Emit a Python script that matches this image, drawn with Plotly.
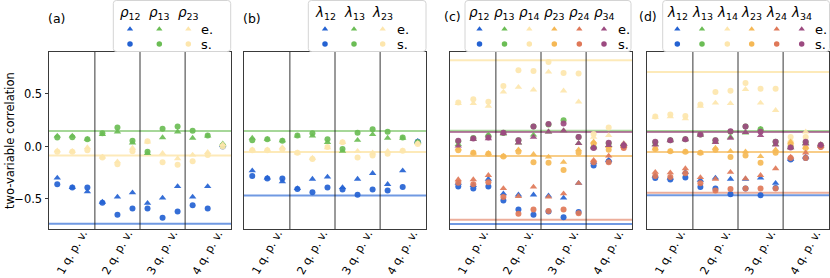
import plotly.graph_objects as go

W, H = 830, 278

# ---------------- data ----------------
x_pos = list(range(12))
tick_vals = [2, 5, 8, 11]
tick_text = ["1 q. p. v.", "2 q. p. v.", "3 q. p. v.", "4 q. p. v."]
section_bounds = [2.5, 5.5, 8.5]
panel_labels = ["(a)", "(b)", "(c)", "(d)"]

# panel (a): rho_12, rho_13, rho_23 (e = triangles, s = circles)
a_12_e = [-0.30, -0.39, -0.43, -0.53, -0.48, -0.44, -0.54, -0.49, -0.38, -0.48, -0.38, 0.01]
a_12_s = [-0.36, -0.39, -0.39, -0.535, -0.65, -0.59, -0.59, -0.68, -0.62, -0.56, -0.59, 0.00]
a_13_e = [0.10, 0.10, 0.07, 0.115, 0.14, 0.035, -0.065, 0.085, 0.14, 0.08, 0.10, 0.025]
a_13_s = [0.085, 0.087, 0.07, 0.125, 0.18, 0.055, -0.05, 0.17, 0.19, 0.15, 0.105, 0.01]
a_23_e = [-0.04, -0.045, -0.01, -0.10, -0.145, -0.015, 0.045, -0.065, -0.115, -0.08, -0.055, 0.02]
a_23_s = [-0.05, -0.05, -0.035, -0.105, -0.17, -0.045, 0.05, -0.15, -0.175, -0.14, -0.08, 0.00]
a_ref = [-0.735, 0.148, -0.087]

# panel (b): lambda_12, lambda_13, lambda_23
b_12_e = [-0.23, -0.30, -0.335, -0.40, -0.31, -0.29, -0.39, -0.31, -0.255, -0.36, -0.23, 0.05]
b_12_s = [-0.28, -0.305, -0.305, -0.405, -0.435, -0.39, -0.41, -0.46, -0.41, -0.42, -0.385, 0.045]
b_13_e = [0.08, 0.07, 0.055, 0.10, 0.10, 0.04, -0.045, 0.06, 0.115, 0.08, 0.08, 0.04]
b_13_s = [0.06, 0.07, 0.055, 0.105, 0.125, 0.068, -0.025, 0.13, 0.165, 0.14, 0.085, 0.04]
b_23_e = [-0.03, -0.03, -0.01, -0.06, -0.11, -0.01, 0.04, -0.045, -0.06, -0.045, -0.04, 0.03]
b_23_s = [-0.035, -0.035, -0.027, -0.06, -0.12, -0.005, 0.04, -0.105, -0.087, -0.07, -0.04, 0.024]
b_ref = [-0.468, 0.148, -0.052]

# panel (c): rho_12, rho_13, rho_14, rho_23, rho_24, rho_34
c_12_e = [-0.35, -0.37, -0.31, -0.45, -0.46, -0.46, -0.47, -0.49, -0.35, -0.15, -0.13, 0.02]
c_12_s = [-0.38, -0.40, -0.38, -0.515, -0.60, -0.65, -0.62, -0.675, -0.625, -0.18, -0.14, 0.01]
c_13_e = [0.02, 0.07, 0.11, 0.12, 0.035, 0.11, 0.14, 0.15, 0.03, 0.00, 0.01, 0.02]
c_13_s = [0.05, 0.08, 0.10, 0.13, 0.06, 0.19, 0.21, 0.25, 0.09, -0.01, 0.03, 0.01]
c_14_e = [0.41, 0.41, 0.385, 0.52, 0.565, 0.54, 0.71, 0.53, 0.425, 0.09, 0.105, 0.03]
c_14_s = [0.42, 0.45, 0.425, 0.575, 0.725, 0.72, 0.805, 0.70, 0.695, 0.12, 0.18, 0.02]
c_23_e = [-0.02, -0.06, -0.065, -0.09, -0.03, -0.075, -0.10, -0.15, -0.03, 0.045, 0.00, 0.01]
c_23_s = [-0.035, -0.06, -0.07, -0.095, -0.05, -0.15, -0.155, -0.225, -0.06, 0.025, -0.03, 0.00]
c_24_e = [-0.315, -0.315, -0.275, -0.40, -0.475, -0.385, -0.48, -0.45, -0.35, -0.13, -0.09, 0.0]
c_24_s = [-0.345, -0.36, -0.34, -0.48, -0.64, -0.60, -0.615, -0.60, -0.635, -0.15, -0.15, -0.015]
c_34_e = [0.005, 0.07, 0.075, 0.125, 0.035, 0.09, 0.14, 0.15, 0.03, -0.01, 0.01, 0.025]
c_34_s = [0.055, 0.075, 0.085, 0.13, 0.06, 0.19, 0.215, 0.22, 0.09, -0.015, 0.035, 0.01]
c_ref = [-0.738, 0.151, 0.821, -0.09, -0.697, 0.138]

# panel (d): lambda_12 ... lambda_34
d_12_e = [-0.28, -0.30, -0.245, -0.32, -0.30, -0.31, -0.31, -0.30, -0.35, -0.12, -0.10, 0.01]
d_12_s = [-0.30, -0.315, -0.295, -0.385, -0.40, -0.455, -0.40, -0.465, -0.395, -0.125, -0.11, 0.00]
d_13_e = [0.02, 0.06, 0.07, 0.11, 0.045, 0.09, 0.13, 0.165, 0.02, -0.01, 0.03, 0.02]
d_13_s = [0.04, 0.06, 0.07, 0.115, 0.06, 0.14, 0.19, 0.165, 0.045, -0.005, 0.04, 0.015]
d_14_e = [0.28, 0.285, 0.265, 0.385, 0.415, 0.41, 0.545, 0.415, 0.345, 0.06, 0.14, 0.02]
d_14_s = [0.285, 0.305, 0.29, 0.40, 0.52, 0.53, 0.605, 0.55, 0.55, 0.09, 0.09, 0.01]
d_23_e = [-0.02, -0.045, -0.05, -0.06, -0.015, -0.045, -0.05, -0.095, -0.03, 0.045, -0.005, 0.005]
d_23_s = [-0.025, -0.045, -0.05, -0.06, -0.03, -0.10, -0.085, -0.155, -0.06, 0.02, -0.015, 0.0]
d_24_e = [-0.245, -0.25, -0.21, -0.295, -0.31, -0.245, -0.305, -0.275, -0.21, -0.10, -0.06, 0.00]
d_24_s = [-0.28, -0.29, -0.255, -0.35, -0.42, -0.405, -0.40, -0.40, -0.40, -0.11, -0.11, -0.005]
d_34_e = [0.015, 0.055, 0.065, 0.11, 0.04, 0.08, 0.135, 0.105, 0.015, -0.01, 0.025, 0.02]
d_34_s = [0.045, 0.06, 0.07, 0.115, 0.06, 0.145, 0.19, 0.14, 0.045, -0.01, 0.045, 0.015]
d_ref = [-0.465, 0.148, 0.71, -0.052, -0.44, 0.138]

names3 = ["12", "13", "23"]
names6 = ["12", "13", "14", "23", "24", "34"]

# ---------------- styles ----------------
COL6 = ["#2462d2", "#6bbd55", "#fde6ad", "#f5b855", "#df7858", "#9c4a80"]
COL3 = ["#2462d2", "#6bbd55", "#fde6ad"]
LINECOL6 = ["rgba(36,98,210,0.65)", "rgba(107,189,85,0.6)", "rgba(253,230,173,0.85)",
            "rgba(245,184,85,0.7)", "rgba(223,120,88,0.6)", "rgba(156,74,128,0.7)"]
LINECOL3 = LINECOL6[:3]

panels = [
    dict(px=(49, 231), sym="ρ", names=names3, cols=COL3, lcols=LINECOL3,
         e=[a_12_e, a_13_e, a_23_e], s=[a_12_s, a_13_s, a_23_s], ref=a_ref,
         box=(113.3, 230.7), hx=[130, 159.3, 188.3], es_x=199, lab=(56, 18)),
    dict(px=(244, 426), sym="λ", names=names3, cols=COL3, lcols=LINECOL3,
         e=[b_12_e, b_13_e, b_23_e], s=[b_12_s, b_13_s, b_23_s], ref=b_ref,
         box=(308.3, 426), hx=[325, 354, 382.7], es_x=395, lab=(252, 18)),
    dict(px=(450, 632), sym="ρ", names=names6, cols=COL6, lcols=LINECOL6,
         e=[c_12_e, c_13_e, c_14_e, c_23_e, c_24_e, c_34_e],
         s=[c_12_s, c_13_s, c_14_s, c_23_s, c_24_s, c_34_s], ref=c_ref,
         box=(465, 631), hx=[479.5, 504.5, 529.3, 554.3, 579.3, 604], es_x=615.5, lab=(452, 16)),
    dict(px=(647, 829), sym="λ", names=names6, cols=COL6, lcols=LINECOL6,
         e=[d_12_e, d_13_e, d_14_e, d_23_e, d_24_e, d_34_e],
         s=[d_12_s, d_13_s, d_14_s, d_23_s, d_24_s, d_34_s], ref=d_ref,
         box=(662.7, 829.5), hx=[677.3, 702, 727.3, 751.7, 776.7, 801.7], es_x=812.5, lab=(648, 16)),
]

TOP, BOT = 52, 229
YR = [-0.786, 0.90]
XR = [-0.55, 11.55]
FONT = "DejaVu Sans"
FRAME = "#3a3a3a"

fig = go.Figure()
layout = dict(width=W, height=H, margin=dict(l=0, r=0, t=0, b=0, autoexpand=False),
              paper_bgcolor="white", plot_bgcolor="rgba(0,0,0,0)",
              showlegend=False, font=dict(family=FONT, color="black"))
shapes = []
annotations = []

ydom = [1 - BOT / H, 1 - TOP / H]

for i, p in enumerate(panels):
    k = "" if i == 0 else str(i + 1)
    xa, ya = "x" + k, "y" + k
    x0, x1 = p["px"]
    layout["xaxis" + k] = dict(domain=[x0 / W, x1 / W], range=XR, anchor=ya, automargin=False,
                               showgrid=False, zeroline=False, showline=True, mirror=True,
                               linecolor=FRAME, linewidth=1, tickmode="array",
                               tickvals=tick_vals, showticklabels=False, ticks="")
    layout["yaxis" + k] = dict(domain=ydom, range=YR, anchor=xa, automargin=False,
                               showgrid=False, zeroline=False, showline=True, mirror=True,
                               linecolor=FRAME, linewidth=1,
                               tickmode="array", tickvals=[-0.5, 0.0, 0.5],
                               ticktext=["−0.5", "0.0", "0.5"],
                               ticks="outside" if i == 0 else "", ticklen=3.5, tickcolor=FRAME,
                               showticklabels=(i == 0),
                               tickfont=dict(size=11.5, family=FONT, color="black"))
    # rotated category labels, anchored at their tick positions
    for tv, tt in zip(tick_vals, tick_text):
        annotations.append(dict(xref=xa, yref="paper", x=tv, y=1 - 252.5 / H, xshift=-15,
                                showarrow=False, text=tt, textangle=-60,
                                font=dict(size=11.3, family=FONT, color="black"),
                                xanchor="center", yanchor="middle"))
    # section dividers
    for b in section_bounds:
        shapes.append(dict(type="line", xref=xa, yref=ya + " domain", x0=b, x1=b, y0=0, y1=1,
                           line=dict(color="rgba(20,20,20,0.85)", width=1), layer="above"))
    # reference lines
    for v, lc in zip(p["ref"], p["lcols"]):
        shapes.append(dict(type="line", xref=xa + " domain", yref=ya, x0=0, x1=1, y0=v, y1=v,
                           line=dict(color=lc, width=2), layer="below"))
    # data
    for ev, sv, c in zip(p["e"], p["s"], p["cols"]):
        fig.add_trace(go.Scatter(x=x_pos, y=ev, mode="markers", xaxis=xa, yaxis=ya,
                                 marker=dict(symbol="triangle-up", size=6.5, color=c, opacity=0.92,
                                             line=dict(width=0))))
        fig.add_trace(go.Scatter(x=x_pos, y=sv, mode="markers", xaxis=xa, yaxis=ya,
                                 marker=dict(symbol="circle", size=6, color=c, opacity=0.92,
                                             line=dict(width=0))))

# overlay pixel axes for legends / labels
layout["xaxis5"] = dict(domain=[0, 1], range=[0, W], visible=False, anchor="y5",
                        fixedrange=True, automargin=False)
layout["yaxis5"] = dict(domain=[0, 1], range=[H, 0], visible=False, anchor="x5",
                        fixedrange=True, automargin=False)

def rounded_rect(x0, y0, x1, y1, r=3):
    return (f"M{x0 + r},{y0} L{x1 - r},{y0} Q{x1},{y0} {x1},{y0 + r} L{x1},{y1 - r} "
            f"Q{x1},{y1} {x1 - r},{y1} L{x0 + r},{y1} Q{x0},{y1} {x0},{y1 - r} "
            f"L{x0},{y0 + r} Q{x0},{y0} {x0 + r},{y0} Z")

for p in panels:
    bx0, bx1 = p["box"]
    shapes.append(dict(type="path", xref="x5", yref="y5",
                       path=rounded_rect(bx0, 0.5, bx1, 51.5),
                       fillcolor="rgba(255,255,255,0.85)", line=dict(color="#d4d4d4", width=1),
                       layer="below"))
    for hx, nm in zip(p["hx"], p["names"]):
        annotations.append(dict(xref="x5", yref="y5", x=hx, y=13, showarrow=False,
                                text=f"<i>{p['sym']}</i><sub>{nm}</sub>",
                                font=dict(size=13.5, family=FONT, color="black"),
                                xanchor="center", yanchor="middle"))
    fig.add_trace(go.Scatter(x=p["hx"], y=[29] * len(p["hx"]), mode="markers",
                             xaxis="x5", yaxis="y5",
                             marker=dict(symbol="triangle-up", size=5.5, color=p["cols"])))
    fig.add_trace(go.Scatter(x=p["hx"], y=[44] * len(p["hx"]), mode="markers",
                             xaxis="x5", yaxis="y5",
                             marker=dict(symbol="circle", size=5.5, color=p["cols"])))
    for t, yy in (("e.", 29), ("s.", 44)):
        annotations.append(dict(xref="x5", yref="y5", x=p["es_x"], y=yy, showarrow=False,
                                text=t, font=dict(size=13, family=FONT, color="black"),
                                xanchor="left", yanchor="middle"))

for p, lab in zip(panels, panel_labels):
    annotations.append(dict(xref="x5", yref="y5", x=p["lab"][0], y=p["lab"][1], showarrow=False,
                            text=lab, font=dict(size=12.5, family=FONT, color="black"),
                            xanchor="center", yanchor="middle"))

annotations.append(dict(xref="x5", yref="y5", x=9.5, y=(TOP + BOT) / 2, showarrow=False,
                        text="two-variable correlation", textangle=-90,
                        font=dict(size=11.5, family=FONT, color="black"),
                        xanchor="center", yanchor="middle"))

layout["shapes"] = shapes
layout["annotations"] = annotations
fig.update_layout(**layout)
fig.write_html("out.html", config={"displayModeBar": False},
               post_script="document.body.style.margin='0';document.body.style.overflow='hidden';")
